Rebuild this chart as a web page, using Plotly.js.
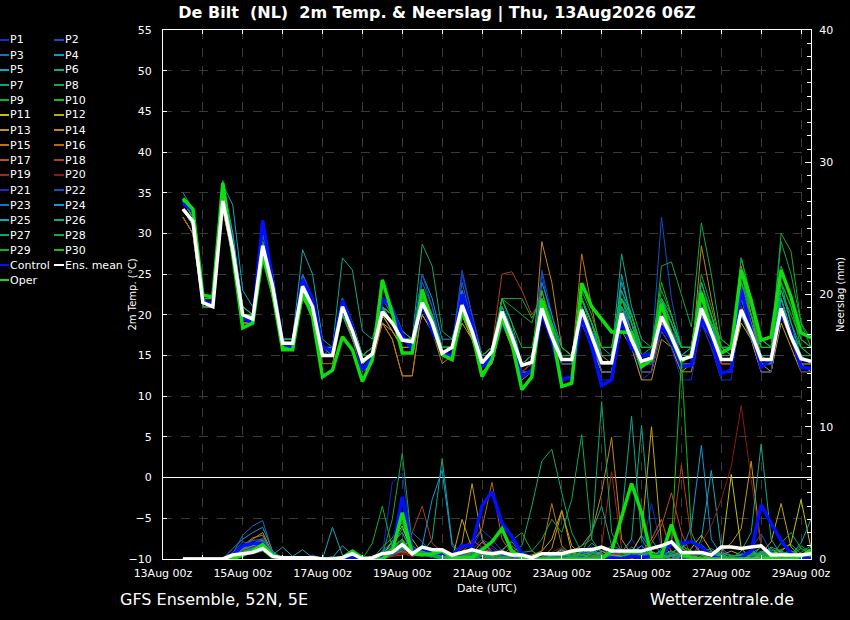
<!DOCTYPE html>
<html><head><meta charset="utf-8">
<script src="https://cdn.plot.ly/plotly-3.0.1.min.js"></script>
<style>html,body{margin:0;padding:0;background:#000;}#chart{width:850px;height:620px;}</style>
</head><body><div id="chart"></div>
<script>
const times = ["2026-08-13 12:00","2026-08-13 18:00",
"2026-08-14 00:00","2026-08-14 06:00","2026-08-14 12:00","2026-08-14 18:00",
"2026-08-15 00:00","2026-08-15 06:00","2026-08-15 12:00","2026-08-15 18:00",
"2026-08-16 00:00","2026-08-16 06:00","2026-08-16 12:00","2026-08-16 18:00",
"2026-08-17 00:00","2026-08-17 06:00","2026-08-17 12:00","2026-08-17 18:00",
"2026-08-18 00:00","2026-08-18 06:00","2026-08-18 12:00","2026-08-18 18:00",
"2026-08-19 00:00","2026-08-19 06:00","2026-08-19 12:00","2026-08-19 18:00",
"2026-08-20 00:00","2026-08-20 06:00","2026-08-20 12:00","2026-08-20 18:00",
"2026-08-21 00:00","2026-08-21 06:00","2026-08-21 12:00","2026-08-21 18:00",
"2026-08-22 00:00","2026-08-22 06:00","2026-08-22 12:00","2026-08-22 18:00",
"2026-08-23 00:00","2026-08-23 06:00","2026-08-23 12:00","2026-08-23 18:00",
"2026-08-24 00:00","2026-08-24 06:00","2026-08-24 12:00","2026-08-24 18:00",
"2026-08-25 00:00","2026-08-25 06:00","2026-08-25 12:00","2026-08-25 18:00",
"2026-08-26 00:00","2026-08-26 06:00","2026-08-26 12:00","2026-08-26 18:00",
"2026-08-27 00:00","2026-08-27 06:00","2026-08-27 12:00","2026-08-27 18:00",
"2026-08-28 00:00","2026-08-28 06:00","2026-08-28 12:00","2026-08-28 18:00",
"2026-08-29 00:00","2026-08-29 06:00"];

const tickDates = ["2026-08-13 00:00","2026-08-14 00:00","2026-08-15 00:00","2026-08-16 00:00","2026-08-17 00:00","2026-08-18 00:00","2026-08-19 00:00","2026-08-20 00:00","2026-08-21 00:00","2026-08-22 00:00","2026-08-23 00:00","2026-08-24 00:00","2026-08-25 00:00","2026-08-26 00:00","2026-08-27 00:00","2026-08-28 00:00","2026-08-29 00:00"];
const tickLabels = ["13Aug 00z","","15Aug 00z","","17Aug 00z","","19Aug 00z","","21Aug 00z","","23Aug 00z","","25Aug 00z","","27Aug 00z","","29Aug 00z"];

const memberNames = ["P1","P2","P3","P4","P5","P6","P7","P8","P9","P10","P11","P12","P13","P14","P15","P16","P17","P18","P19","P20","P21","P22","P23","P24","P25","P26","P27","P28","P29","P30"];
const memberColors = ["#1a2ad0","#1050c8","#1870c8","#1098d0","#10a8b8","#10a888","#10a868","#10a848","#10b028","#10c010","#c0c010","#c0a810","#c09810","#c08810","#c07410","#c06410","#b85018","#b04020","#a02818","#901818","#1a2ad0","#1050c8","#1870c8","#1098d0","#10a8b8","#10a888","#10a868","#10a848","#10b028","#10c010"];

const meanTemp = [33,31.5,21.5,21, 34,28,20,19.5, 28.5,23.5,16.5,16.5, 23.5,21,15,15, 21,18,14.3,15.2, 20.4,19,16.9,16.7, 21.5,19,15.3,16, 21.2,18,14.1,15.5, 20.4,17.3,13.8,14.2, 20.8,17.3,14.5,14.5, 20.6,17.3,14.1,14.1, 20.2,16.9,14.3,14.7, 19.8,17.3,14.5,14.9, 20.8,17.8,14.5,14.5, 20.6,17.8,14.5,14.5, 20.8,17.3,14.6,14.3];
const controlTemp = [33.7,32.8,21.6,21.4, 35.3,27.9,19.6,19, 31.6,23.9,16.5,16, 24.3,22,16.1,15.5, 21.8,18.6,13.2,14.9, 22.1,20.6,17.5,15.7, 21.4,18.1,15.5,14.9, 22.5,19,13.6,14.9, 19,16.9,12.4,13.2, 20.2,16.9,12,12.4, 19.8,16.1,11.3,12, 19.4,15.9,14.9,15.3, 18.6,16.9,13.6,13.8, 19.4,17.3,12.8,13.2, 23.1,18.1,13.6,14.5, 20.2,17.8,13.6,13.4];
const operTemp = [34.3,33,22.4,22.2, 36.2,27.6,18.4,19, 27.3,22.7,15.7,15.7, 22.7,19.8,12.4,13.2, 17.3,15.7,11.8,14.5, 24.3,20.2,15.3,15.3, 23.1,19,15.1,14.5, 20.5,17.8,12.4,14.5, 19.5,16.5,10.8,12.4, 21.8,18.1,11.2,11.6, 23.9,21,19.5,17.9, 17.9,17.8,13.6,14.5, 21.4,17.3,14.3,15.1, 22.7,17.8,15.3,16, 25.5,21.8,16.9,17.3, 25.5,22.2,17.8,17.2];

const meanPrecip = [0,0,0,0, 0,0.3,0.4,0.5, 0.8,0.2,0.1,0.1, 0.1,0.1,0,0, 0.1,0.4,0,0.1, 0.4,0.5,1.1,0.4, 0.9,0.7,0.7,0.3, 0.5,0.7,0.5,0.4, 0.5,0.3,0.3,0.1, 0.4,0.4,0.4,0.6, 0.7,0.7,0.9,0.6, 0.6,0.6,0.6,0.8, 1.0,1.3,0.5,0.5, 0.5,0.3,0.9,0.9, 0.8,0.9,1.0,0.3, 0.3,0.3,0.3,0.4];
const controlPrecip = [0,0,0,0, 0,0.3,1.0,1.2, 1.2,0.3,0,0, 0,0,0,0, 0,0.1,0,0, 0.2,0.5,4.7,0.6, 0.8,0.5,0.4,0.3, 1.0,1.0,4.0,5.1, 2.7,1.7,0.4,0.1, 0,0,0,0, 0,0,0,0.1, 0,0.2,0.1,0.2, 0.3,1.2,1.2,1.3, 0.9,0.2,0,0, 0.1,0.6,4.1,2.7, 1.4,0.4,0.1,0];
const operPrecip = [0,0,0,0, 0,0,0.3,0.6, 1.1,0.3,0,0, 0,0,0,0, 0.1,0.6,0.1,0, 0,0.6,3.5,0.4, 0.3,0.4,0.6,0.1, 0.1,0.1,0.7,1.3, 2.3,0.6,0.1,0, 0,0,0,0, 0,0,0,0.6, 3.1,5.7,3.5,0.2, 0.2,2.6,0.4,0.1, 0,0,0,0, 0,0,0,0.1, 0,0,0.2,0.7];

const p1Temp = [33,31,21,21, 35,28,20,19, 30,24,16,16, 24,21,15,15, 22,18,14,15, 21,19,17,16, 22,19,15,16, 23,19,14,15, 21,17,13,13, 21,17,14,14, 20,17,13,13, 19,16,12,13, 22,18,14,14, 19,16,13,13, 23,18,13,13, 20,17,14,13];
const p2Temp = [34,32,22,22, 36,29,20,20, 31,25,17,16, 25,22,16,15, 22,19,15,16, 22,20,17,17, 23,20,16,16, 25,20,15,16, 22,18,14,15, 25,19,15,15, 21,18,15,14, 21,17,14,15, 32,22,16,16, 21,18,15,15, 22,18,14,14, 21,17,14,14];
const p3Temp = [32,30,21,21, 34,28,19,19, 29,24,16,16, 25,22,15,15, 20,17,14,15, 22,21,18,17, 24,21,16,16, 24,19,15,16, 20,18,14,14, 22,18,15,15, 21,18,14,14, 23,19,15,15, 20,17,15,15, 20,18,15,15, 24,19,14,14, 21,18,15,14];
const p4Temp = [35,33,22,22, 35,30,20,20, 29,23,16,16, 24,21,15,16, 21,18,15,16, 20,19,17,17, 25,22,17,17, 22,19,15,16, 19,17,14,15, 21,18,15,15, 22,19,16,15, 22,18,15,15, 21,18,15,16, 24,20,16,15, 21,19,16,16, 22,18,15,15];
const p5Temp = [34,32,22,21, 36,33.5,23,21, 27,23,17,17, 28,25,17,16, 22,19,15,16, 21,20,17,17, 21,19,16,16, 22,18,15,16, 21,18,14,14, 21,18,15,15, 22,18,14,14, 25,19,15,15, 19,17,15,15, 22,19,16,16, 21,18,15,15, 22,18,15,14];
const p6Temp = [33,31,21,21, 34,28,20,19, 28,23,16,16, 24,22,16,16, 27,25.5,18,17, 22,20,18,17, 22,19,16,16, 21,18,14,15, 20,17,14,14, 22,18,15,15, 20,18,15,15, 27.5,21,17,16, 21,18,15,16, 23,19,15,15, 22,19,15,15, 24,19,16,15];
const p7Temp = [32,30,21,21, 33,27,19,19, 28,23,16,16, 23,21,15,15, 20,18,14,15, 20,19,17,17, 28.7,26,18,17, 22,19,15,16, 20,17,14,15, 21,17,14,14, 20,17,14,14, 22,20,16,16, 22,19,16,16, 22,19,17,16, 25,20,15,14, 22,18,15,15];
const p8Temp = [33,31,21,21, 34,28,20,20, 28,23,17,17, 23,20,15,15, 21,18,14,15, 21,20,17,17, 22,19,16,16, 20,17,14,15, 21,18,14,14, 21,17,14,14, 21,18,15,15, 19,16,14,14, 26,26.5,22.5,18.5, 31.3,25,17,16, 21,18,15,15, 22,18,16,15];
const p9Temp = [34,32,22,21, 35,28,20,20, 29,24,17,17, 24,21,15,15, 21,18,14,15, 20,19,17,17, 21,18,15,16, 22,19,15,16, 22,22,22,19.6, 22,19,15,15, 21,18,15,15, 22,19,15,15, 20,18,16,16, 24,20,15,15, 27,22,17,16, 30,27.8,19,16];
const p10Temp = [33,31,22,22, 35,29,21,20, 28,23,17,17, 23,21,15,15, 21,18,15,16, 21,20,17,17, 21,19,16,16, 21,18,15,16, 20,17,14,15, 22,18,15,15, 22,19,15,15, 21,18,16,16, 21,19,16,16, 22,19,16,16, 23,20,17,16, 23,20,17,16];
const p11Temp = [33,31,21,21, 34,28,20,19, 28,23,16,16, 23,21,15,15, 21,17,14,15, 20,18,16,16, 20,18,15,15, 20,17,14,15, 19,17,13,13, 20,17,14,14, 19,16,13,13, 20,17,14,14, 19,17,14,14, 20,17,14,14, 19,17,13,13, 20,17,14,14];
const p12Temp = [32,30,21,21, 33,27,19,19, 27,23,16,16, 22,20,15,15, 20,18,14,15, 19,18,16,16, 20,18,15,15, 19,17,13,14, 20,16,13,13, 23,18,15,15, 20,18,14,14, 19,17,13,13, 18,16,13,14, 20,17,14,14, 21,17,14,13, 19,16,13,13];
const p13Temp = [33,31,22,21, 34,28,20,19, 28,23,16,16, 23,21,15,15, 21,18,14,15, 19,17,12.5,12.5, 21,19,15,15, 20,17,13,14, 19,16,13,13, 21,18,14,14, 20,17,13,13, 18,16,12,12, 17,16,13,13, 19,17,13,13, 20,17,13,13, 21,17,14,13];
const p14Temp = [32,30,21,21, 34,27,20,19, 28,23,16,16, 23,20,15,15, 21,18,14,15, 20,18,16,16, 21,18,15,15, 20,17,14,14, 19,16,12,13, 29,24,16,15, 21,18,14,14, 21,18,14,14, 20,17,14,14, 28.5,22,16,15, 21,18,14,14, 21,18,14,14];
const p15Temp = [33,31,21,21, 34,28,20,19, 28,23,16,16, 22,20,14,14, 20,17,13,14, 19,17,12.5,12.5, 21,18,14,15, 21,18,14,15, 20,17,13,14, 20,17,14,14, 27.5,21,15,14, 20,17,13,13, 19,17,14,14, 20,17,14,14, 26,20,15,14, 20,17,14,14];
const p16Temp = [33,31,22,21, 33,27,19,19, 27,22,16,16, 23,21,15,15, 22,19,15,16, 21,19,17,16, 22,19,15,15, 22,18,14,15, 19,16,13,13, 22,18,14,14, 21,17,13,13, 20,17,14,14, 20,17,14,14, 21,18,14,14, 21,18,14,14, 20,17,14,14];
const p17Temp = [32,30,21,21, 34,28,20,20, 29,24,17,16, 24,21,15,15, 21,18,14,15, 21,19,17,17, 22,19,15,16, 21,18,14,15, 20,17,13,14, 21,17,14,14, 20,17,14,14, 20,17,14,14, 21,18,15,15, 21,18,15,15, 20,18,15,15, 20,17,15,15];
const p18Temp = [33,31,22,22, 35,29,21,20, 30,25,17,17, 24,21,15,15, 21,18,15,15, 20,19,17,17, 21,19,15,16, 21,18,15,16, 25,25.3,23,20, 22,18,15,15, 21,18,14,14, 21,18,15,15, 20,18,15,15, 21,18,14,14, 22,18,15,15, 21,18,15,14];
const p19Temp = [33,31,21,21, 34,28,20,19, 29,24,16,16, 23,21,15,15, 22,19,15,16, 21,19,17,17, 22,19,15,15, 21,18,14,15, 20,17,13,14, 20,17,14,14, 21,17,14,14, 20,17,14,14, 20,17,14,14, 21,18,15,15, 21,18,15,15, 20,17,15,15];
const p20Temp = [34,32,22,22, 35,29,21,20, 29,24,17,17, 24,22,16,16, 21,19,15,16, 21,20,17,17, 21,19,16,16, 22,19,15,16, 21,18,14,14, 21,17,14,14, 20,17,14,14, 19,17,14,14, 20,18,15,15, 22,19,15,15, 21,19,15,15, 21,18,15,15];
const p21Temp = [33,31,21,21, 34,28,20,19, 31.5,25,17,17, 24,22,16,16, 22,19,15,15, 21,20,17,16, 21,18,15,16, 25,20,15,15, 20,17,13,13, 20,17,14,14, 19,16,12,12, 19,16,13,13, 18,16,12,12, 19,16,12,12, 22,18,13,13, 21,17,13,13];
const p22Temp = [33,31,22,21, 35,28,20,20, 28,24,17,16, 24,21,15,15, 21,18,14,15, 20,19,17,17, 25,21,16,16, 25.5,20,15,15, 20,17,14,14, 25.5,20,15,15, 21,18,14,14, 20,17,14,14, 21,18,14,14, 20,18,15,15, 23,19,14,14, 22,18,15,15];
const p23Temp = [34,32,22,22, 36,29,21,20, 29,24,17,17, 25,22,16,16, 22,19,15,16, 21,20,17,17, 22,19,16,16, 21,18,14,15, 20,17,14,14, 20,17,14,14, 20,17,13,13, 21,18,15,15, 22,19,15,15, 22,19,15,15, 20,17,14,14, 22,18,14,14];
const p24Temp = [33,31,21,21, 34,28,20,19, 28,23,16,16, 23,20,15,15, 21,18,14,15, 21,20,17,16, 23,20,16,16, 23,19,15,15, 22,19,14,14, 24,20,16,15, 22,19,14,14, 21,18,15,15, 22,19,16,16, 21,19,15,15, 22,18,14,14, 22,18,15,15];
const p25Temp = [34,32,22,22, 36.5,30,21,20, 30,25,17,17, 24,21,15,15, 20,18,14,15, 21,20,17,17, 21,19,16,16, 21,18,14,15, 21,18,14,14, 21,18,15,15, 22,19,15,15, 24,20,15,15, 22,19,16,16, 21,19,16,16, 22,19,15,15, 23,19,15,15];
const p26Temp = [33,31,21,21, 34,28,20,20, 28,24,17,17, 24,21,16,15, 22,19,15,16, 22,21,18,17, 22,19,16,16, 22,19,15,16, 20,17,14,14, 22,18,15,15, 21,18,14,14, 22,19,15,15, 21,18,15,15, 22,19,15,15, 23,19,15,15, 22,18,15,15];
const p27Temp = [33,31,22,21, 35,29,20,20, 28,23,16,16, 23,20,15,15, 20,17,14,15, 21,19,17,17, 22,20,16,16, 22,19,15,16, 21,18,14,15, 22,19,15,15, 22,19,16,16, 23,20,16,16, 22,20,16,16, 24,20,16,16, 24,21,16,16, 26,22,17,16];
const p28Temp = [34,32,22,22, 35,29,21,20, 29,24,17,17, 24,22,16,16, 22,19,15,16, 22,20,17,17, 23,20,16,16, 22,19,15,16, 21,18,14,15, 22,19,15,15, 23,20,16,16, 21,19,16,16, 23,20,16,16, 25,21,16,15, 27,22,17,16, 29,25,19,17];
const p29Temp = [33,31,21,21, 34,28,20,19, 28,23,16,16, 23,21,15,15, 21,18,14,15, 21,19,17,17, 22,19,15,15, 20,18,14,15, 22,21,20,19, 23,19,15,15, 22,19,15,15, 22,19,15,16, 22,19,16,16, 22,19,16,16, 25,21,16,16, 24,21,17,16];
const p30Temp = [34,32,22,22, 35,29,20,20, 28,23,16,16, 23,21,15,15, 21,18,15,15, 21,19,17,17, 22,19,16,16, 21,18,14,15, 22,19,16,16, 22,19,16,15, 22,19,16,16, 22,20,16,16, 24,20,16,16, 23,20,16,16, 24,20,16,16, 24,21,16,16];

const p1Precip = [0,0,0,0, 0,0.3,0.8,1.2, 1.4,0.3,0,0, 0,0,0,0, 0,0,0,0, 0.3,5.8,6.5,1.0, 0.4,0.2,0,0, 0,0.5,1.2,0.8, 0.3,0,0,0, 0,0,0.2,0, 0.1,0,0.3,0.5, 0.2,1.5,0.5,4.2, 0.8,0.2,0,0, 0,0,0.5,0.2, 0,0.3,0.6,0.2, 0,0,0,0];
const p2Precip = [0,0,0,0, 0,0.5,1.3,1.1, 1.6,0.4,0,0, 0,0,0,0, 0,0.2,0,0, 0.5,1.2,2.0,0.5, 0.6,0.3,0,0, 0.4,0.9,2.2,1.5, 0.6,0.2,0,0, 0,0,0,0, 0,0.2,0.4,0, 0,0.3,1.0,0.3, 0.5,1.1,0.2,0, 0,0.1,0,0, 0,0.8,1.9,0.5, 0.2,0,0,0];
const p3Precip = [0,0,0,0, 0,0.4,1.8,2.5, 2.9,0.5,0.1,0, 0,0.3,0,0, 0,0.1,0,0, 0,0.3,0.6,2.0, 1.3,0.4,0.2,0, 0,0.2,0.3,0.4, 0.2,0.1,0,0, 0,0.3,0.8,0.2, 0,0,0.5,1.0, 0.7,0.2,0,0, 0,0.4,0.9,0.3, 1.1,0.4,0,0, 0,0,0.3,0.7, 0.3,0,0,0];
const p4Precip = [0,0,0,0, 0,0.8,1.5,2.0, 2.4,0.6,0,0.1, 0,0,0,0.2, 0,0,0,0, 0.2,0.9,1.5,0.4, 0.8,0.5,0.3,0, 0,0,0.2,0.4, 0.7,1.3,0.3,0, 0,0,0.2,0, 0.3,1.2,0.6,0.2, 0,0.5,1.8,0.6, 0.2,0,0.8,1.4, 0.3,0,0,0, 0,0.2,0.9,0.4, 0,0.6,0.3,0];
const p5Precip = [0,0,0,0, 0,0.2,0.6,0.9, 1.1,0.3,0.9,0.2, 0.7,0.1,0,2.4, 0.3,0,0,0, 0.2,0.4,1.0,0.3, 0.6,0.2,0.1,0, 0.3,0.8,0.4,0.1, 0,0,0.3,0.1, 0,0.2,0.4,0.1, 0,0.5,0.3,0, 0.2,0.9,0.4,0, 0.3,0.6,0.2,0, 1.5,6.7,0.8,0.2, 0,0,0.3,0.5, 0.4,0.6,0.2,0];
const p6Precip = [0,0,0,0, 0,0.1,0.4,0.7, 0.8,0.2,0,0, 0,0,0,0, 0,0.1,0,0, 0.5,1.0,2.3,0.8, 0.4,1.5,7.6,1.2, 0.2,0.1,0,0.3, 0.5,0.2,0,0, 0,0.4,0.2,0, 0.6,0.9,0.2,0.1, 0.5,1.5,10.1,1.5, 0.3,0.2,0,0, 0,0.4,0.2,0, 0,0,0.6,0.2, 0,0,0,0.4];
const p7Precip = [0,0,0,0, 0,0,0.2,0.5, 0.7,0.1,0,0, 0,0,0,0, 0,0.2,0.1,0, 0.9,1.6,2.8,0.5, 0.3,0.2,0.4,0.2, 0,0.1,0.5,0.3, 0.4,0.5,1.0,4.0, 7.4,8.3,5.0,2.0, 0.5,0.2,0,0, 0.3,0.6,0.2,0, 0.2,0.5,0.9,0.3, 0,0.2,0,0, 0.3,0.5,0.2,0, 0,0.3,1.0,0.5];
const p8Precip = [0,0,0,0, 0,0.2,0.5,0.6, 0.9,0.2,0,0, 0,0,0,0, 0,0.1,0,0, 0.3,3.0,8.0,1.0, 0.5,0.3,0.2,0, 0,0,0.3,0.1, 0.3,0.6,0.3,0, 0,0,0.2,0.5, 0.4,0.2,0,0.3, 0.6,0.3,0,0, 0.8,2.0,1.2,0.2, 0,0,0.1,0, 0,0,0.4,0.8, 0.3,0.1,0,0];
const p9Precip = [0,0,0,0, 0,0,0.3,0.4, 0.6,0,0,0, 0,0,0,0, 0,0,0,1.2, 4.0,0.8,1.5,0.4, 0.5,0.2,0,0, 0.2,0.3,0,0, 0.1,0.4,0.2,0, 0,0,0,0.3, 0.8,0.3,0,0, 0,0.2,0.5,0.2, 0,0.3,0.6,0.2, 0,0,0,0, 0,0.4,0.9,0.6, 0.7,1.1,0.4,0.2];
const p10Precip = [0,0,0,0, 0,0.1,0.5,0.9, 1.3,0.2,0,0, 0,0,0,0, 0,0.3,0,0, 0,0.3,1.4,0.2, 0.4,0.3,0,0, 0,0.2,0.4,0.2, 0,0,0,0, 0,0,0,0.2, 0.5,0.3,0,0.2, 0.4,0.2,0,0, 0.5,1.2,15,2.0, 0.3,0,0,0, 0,0,0.2,0.3, 0,0,0,0];
const p11Precip = [0,0,0,0, 0,0.2,0.7,1.0, 1.3,0.4,0,0, 0,0.2,0,0, 0,0,0,0, 0.2,1.4,2.5,0.4, 0.3,0.6,0.2,0, 0.3,0.7,0.3,0, 0.2,0.5,0.4,0, 0,0.3,0.7,0.2, 0,0,0.6,0.3, 0,0,0.4,0.5, 0.3,0,0,0.8, 1.8,0.6,0.3,6.4, 0.8,0,0.2,0.4, 0.6,1.2,4.5,0.8];
const p12Precip = [0,0,0,0, 0,0.1,0.4,0.8, 1.1,0.2,0,0, 0,0,0,0, 0,0,0,0, 0,0.5,0.9,1.5, 0.4,0.2,0,0, 3.0,0.8,0.2,0, 0,0,0.2,0.3, 0.6,1.5,3.7,0.5, 0.2,0,0.3,0.5, 0.2,0.5,1.8,10, 1.2,0.3,0,0, 0,0,0.3,0.6, 0.3,0.2,0.4,1.3, 4.2,0.9,0.2,0];
const p13Precip = [0,0,0,0, 0,0.3,0.9,1.5, 2.0,0.4,0,0, 0,0.2,0.1,0, 0,0,0,0, 0.2,0.6,1.0,0.3, 0.4,0.8,0.3,0.2, 1.2,5.7,1.5,0.4, 0.2,0,0,0, 0,0.8,3.6,1.0, 0.3,0,0,0.2, 0.3,0.2,0,0, 0,0.4,0.3,0, 0,0.2,0.6,1.2, 2.3,7.4,0.8,0.2, 0,0,0.3,0.5];
const p14Precip = [0,0,0,0, 0,0.2,0.8,1.2, 1.4,0.2,0,0, 0,0,0,0, 0,0,0,0, 0.3,0.8,1.2,0.6, 0.3,0.2,0,0, 0.2,0.6,0.8,0.5, 0.3,0,0,0, 0,0,0.2,0.6, 1.0,2.0,5.0,9.2, 1.5,0.3,0,0, 0,0.3,0.5,0.2, 0,0,0,0, 0.2,0.5,0.3,0, 0,0.4,0.2,0];
const p15Precip = [0,0,0,0, 0,0.4,1.0,1.6, 1.8,0.3,0,0, 0,0,0,0, 0,0.1,0,0, 0.2,0.4,0.9,0.3, 0.5,0.3,0.2,0, 0,0.4,1.3,0.6, 0.2,1.0,0.3,0.2, 0.6,4.2,1.0,0.3, 0,0.2,0.6,0.3, 0.5,0.2,0.6,0.3, 0,0.2,0.8,0.4, 0,0.3,0.6,0.2, 0.3,0,0,0.2, 0.5,0.3,0,0];
const p16Precip = [0,0,0,0, 0,0.2,0.5,0.9, 1.0,0.2,0,0, 0,0,0,0, 0,0,0,0, 0,0.3,0.6,0.3, 0.6,0.4,0.3,0, 0.6,1.2,2.3,5.8, 1.5,0.4,0,0, 0,0,0,0.3, 0.2,0,0.3,0, 0,0.3,0.5,1.5, 3.0,0.4,0,0, 0,0.5,0.4,0, 0.2,0.6,0.3,0, 0,0.2,0.4,0];
const p17Precip = [0,0,0,0, 0,0.3,0.7,0.9, 1.1,0.2,0,0, 0,0,0,0.1, 0,0,0,0, 0.4,0.6,0.5,0.6, 0.8,0.3,0.1,0, 0.3,0.5,0.2,0, 0.2,0.4,0.3,0, 0,0.2,0.3,0.4, 0,0.3,0.2,0, 0,0,0.4,1.2, 2.5,5.0,2.0,0.2, 0.4,0.2,0,0, 0,0.3,0.2,0, 0,0,0,0];
const p18Precip = [0,0,0,0, 0,0.3,0.9,1.2, 1.3,0.3,0,0, 0,0,0,0, 0,0,0,0, 0,0.2,0.3,2.0, 4.0,1.2,0.5,0.3, 0.8,1.4,0.9,0.5, 0.7,0.3,0.2,0, 0.5,0.3,0,0, 0,0,0.2,0.4, 0.3,0.5,0.2,0, 0.3,1.2,7.1,1.5, 0.4,0,0,0, 0,0.2,0.5,0.2, 0,0,0,0];
const p19Precip = [0,0,0,0, 0,0.1,0.4,0.6, 0.8,0.1,0,0, 0,0,0,0, 0,0,0,0, 0.2,0.3,0.5,0.2, 1.0,0.5,0.4,0.2, 0,0.2,0.5,0.3, 0,0.1,0.4,0.2, 0,0,0.2,0.1, 0.3,0.5,1.0,6.6, 0.8,0.3,0,0, 0.2,0,0.3,0.4, 0.2,0,0,0.2, 0,0,0,0.3, 0.2,0,0,0];
const p20Precip = [0,0,0,0, 0,0.2,0.6,0.8, 1.0,0.2,0,0, 0,0,0,0, 0,0,0,0, 0,0.3,0.4,0.2, 0.5,0.2,0,0, 0.2,0.4,0.3,0, 0.3,0,0,0, 0,0.5,0.9,0.2, 0,0.2,0.1,0, 0,0.2,0,0, 0,0.4,0.6,0.2, 1.2,2.5,4.5,7.0, 11.6,6.0,1.0,0.2, 0,0,0,0];
const p21Precip = [0,0,0,0, 0,0.1,0.6,0.9, 1.2,0.3,0,0, 0,0,0,0, 0,0,0,0, 0.4,0.9,1.2,0.5, 0.6,0.3,0,0, 0,0.4,0.9,0.6, 0.3,0.2,0,0, 0,0,0,0.2, 0.4,0.2,0,0, 0,0.2,0.4,0.9, 0.6,0.3,0,0, 0,0.2,0.6,0.3, 0,0.5,1.1,0.4, 0.3,0.2,0,0];
const p22Precip = [0,0,0,0, 0,0.2,0.5,0.8, 1.0,0.2,0,0, 0,0,0,0, 0,0.1,0,0, 0.3,0.6,0.8,0.4, 0.3,0.1,0,0, 0.3,0.7,1.5,1.0, 0.4,0.2,0,0, 0,0,0.2,0.3, 0.2,0,0,0.5, 0.3,0.4,0.2,0, 0.3,0.5,0.2,0, 0,0,0,0.2, 0.4,0.6,0.2,0, 0,0,0.2,0.3];
const p23Precip = [0,0,0,0, 0,0.3,1.0,1.4, 1.5,0.4,0,0, 0,0,0,0, 0,0,0,0, 0.2,0.3,0.7,0.6, 0.8,0.4,0.2,0, 0,0.3,0.5,0.3, 0.2,0,0,0, 0,0,0.3,0.2, 0.5,0.4,0.2,0, 0,0.3,0.5,0.2, 0,0,0.3,0.2, 0.4,0.3,0,0, 0,0.2,0.3,0.2, 0,0.2,0.4,0.2];
const p24Precip = [0,0,0,0, 0,0.2,0.8,1.0, 1.4,0.3,0,0, 0,0,0,0, 0,0,0,0, 0,0.4,0.8,0.6, 1.0,4.5,6.7,1.0, 0.3,0.2,0,0, 0,0.2,0.3,0.2, 0,0.2,0.4,0.1, 0.3,0.6,0.4,0.2, 0,0.5,1.0,0.3, 0.2,0,0.6,2.5, 8.6,1.5,0.3,0, 0.2,0.4,0.2,0, 0,0,0.2,0.5];
const p25Precip = [0,0,0,0, 0,0.1,0.4,0.6, 0.8,0.2,0,0, 0,0,0,0.1, 1.0,0.3,0,0, 0.3,0.5,0.9,0.4, 0.6,0.3,0.2,0, 0.1,0.3,0.6,0.3, 0.4,0.2,0,0, 0,0.3,0.5,0.2, 0,0.4,0.8,0.3, 0,0.6,0.4,0.2, 0,0.3,0.2,0, 0,0.4,0.3,0, 0.2,0,0.4,0.9, 0.6,0.3,1.2,3.0];
const p26Precip = [0,0,0,0, 0,0.1,0.3,0.5, 0.7,0.1,0,0, 0,0,0,0, 0,0,0,0, 0.6,1.3,2.0,0.5, 0.8,0.4,0.2,0, 0.2,0.5,0.3,0, 0.1,0.2,0.4,0.2, 0,0.2,0.3,0.2, 0.5,2.0,4.0,1.0, 3.0,10.8,1.5,0.3, 0.2,0,0.2,0.5, 0.3,0.6,0.2,0, 0.6,2.0,8.7,1.5, 0.3,0.5,0.2,0];
const p27Precip = [0,0,0,0, 0,0.2,0.6,0.8, 1.0,0.2,0,0, 0,0,0,0, 0,0,0.2,0, 0.4,0.6,1.0,0.3, 0.5,0.3,0,0, 0.2,0.4,0.5,0.2, 0.1,0,0.3,0.2, 0,0.3,0.6,0.5, 1.0,1.5,11.9,2.0, 0.6,0.2,0,0, 0.3,0.6,0.2,0, 0,0,0.4,0.3, 0.2,0.6,0.3,0, 0,0,0.5,1.0];
const p28Precip = [0,0,0,0, 0,0,0.3,0.6, 0.8,0.1,0,0, 0,0,0,0, 0,0.2,0,0, 0.3,0.9,1.5,0.4, 0.6,0.3,0.1,0, 0,0.3,0.7,0.4, 0.2,0.3,0.5,0.6, 1.5,3.0,2.0,4.5, 9.4,1.5,0.4,0, 0.2,0.4,0,0, 0,0.2,0.4,0.3, 0.5,0.8,0.3,0, 0,0.3,0.5,0.2, 1.2,2.0,0.8,0.3];
const p29Precip = [0,0,0,0, 0,0.2,0.4,0.5, 0.9,0.2,0,0, 0,0,0,0, 0,0,0,0, 0.2,0.4,0.8,0.6, 0.4,0.2,0,0, 0.2,0.3,0.2,0, 0.6,1.4,2.0,0.6, 0.2,0,0,0.2, 0.3,0.5,0.3,0.2, 0,0.4,0.6,0.3, 0.6,1.2,0.3,0, 0.2,0.6,0.4,0, 0,0.3,0.4,0.2, 0.4,0.6,0.3,0.2];
const p30Precip = [0,0,0,0, 0,0.1,0.5,0.8, 1.0,0.2,0,0, 0,0,0,0, 0,0,0,0, 0.3,0.7,1.5,0.5, 0.3,0.2,0,0, 0,0.2,0.6,0.3, 0,0.3,0.5,0.2, 0,0,0.2,0.4, 0.3,0.2,0.2,0, 0.2,0.5,0.3,0, 0,0.4,1.0,0.6, 0.3,0,0,0.2, 0.3,0.5,0.3,0, 0,0.3,0.8,0.4];

const memberTemps = [p1Temp,p2Temp,p3Temp,p4Temp,p5Temp,p6Temp,p7Temp,p8Temp,p9Temp,p10Temp,p11Temp,p12Temp,p13Temp,p14Temp,p15Temp,p16Temp,p17Temp,p18Temp,p19Temp,p20Temp,p21Temp,p22Temp,p23Temp,p24Temp,p25Temp,p26Temp,p27Temp,p28Temp,p29Temp,p30Temp];
const memberPrecips = [p1Precip,p2Precip,p3Precip,p4Precip,p5Precip,p6Precip,p7Precip,p8Precip,p9Precip,p10Precip,p11Precip,p12Precip,p13Precip,p14Precip,p15Precip,p16Precip,p17Precip,p18Precip,p19Precip,p20Precip,p21Precip,p22Precip,p23Precip,p24Precip,p25Precip,p26Precip,p27Precip,p28Precip,p29Precip,p30Precip];

const FONT = "DejaVu Sans, Verdana, sans-serif";
const controlColor = "#0010ff", operColor = "#10dd10", meanColor = "#ffffff";

const traces = [];
memberNames.forEach((nm, k) => {
  traces.push({x: times, y: memberTemps[k], yaxis: "y", type: "scatter", mode: "lines", name: nm,
    line: {color: memberColors[k], width: 1}, showlegend: false, hoverinfo: "skip"});
});
memberNames.forEach((nm, k) => {
  traces.push({x: times, y: memberPrecips[k], yaxis: "y2", type: "scatter", mode: "lines", name: nm,
    line: {color: memberColors[k], width: 1}, showlegend: false, hoverinfo: "skip"});
});
[["Control", controlTemp, controlPrecip, controlColor],
 ["Oper", operTemp, operPrecip, operColor],
 ["Ens. mean", meanTemp, meanPrecip, meanColor]].forEach(([nm, t, p, c]) => {
  traces.push({x: times, y: t, yaxis: "y", type: "scatter", mode: "lines", name: nm, line: {color: c, width: 3.5}, showlegend: false, hoverinfo: "skip"});
  traces.push({x: times, y: p, yaxis: "y2", type: "scatter", mode: "lines", name: nm, line: {color: c, width: 3.5}, showlegend: false, hoverinfo: "skip"});
});

// legend built as annotations + short line shapes (two columns)
const L = 163, R = 811, T = 30, B = 559;
const px2x = px => (px - L) / (R - L);
const py2y = py => (B - py) / (B - T);
const col1 = [], col2 = [];
memberNames.forEach((nm, k) => { (k % 2 === 0 ? col1 : col2).push([nm, memberColors[k]]); });
col1.push(["Control", controlColor]); col1.push(["Oper", operColor]);
col2.push(["Ens. mean", meanColor]);
const annotations = [], shapes = [];
[[col1, 0, 9], [col2, 54, 64]].forEach(([col, sx, tx]) => {
  col.forEach(([nm, c], r) => {
    const py = 40 + 15 * r;
    shapes.push({type: "line", xref: "paper", yref: "paper", x0: px2x(sx), x1: px2x(tx), y0: py2y(py), y1: py2y(py), line: {color: c, width: 2}});
    annotations.push({xref: "paper", yref: "paper", x: px2x(tx - 1), y: py2y(py), text: nm, showarrow: false, xanchor: "left", yanchor: "middle", font: {family: FONT, size: 11, color: "#ffffff"}});
  });
});
// axis titles placed as rotated text
annotations.push({xref: "paper", yref: "paper", x: px2x(131.5), y: py2y(295), text: "2m Temp. (°C)", textangle: -90, showarrow: false, xanchor: "center", yanchor: "middle", font: {family: FONT, size: 10, color: "#ffffff"}});
annotations.push({xref: "paper", yref: "paper", x: px2x(840), y: py2y(295), text: "Neerslag (mm)", textangle: -90, showarrow: false, xanchor: "center", yanchor: "middle", font: {family: FONT, size: 10, color: "#ffffff"}});
annotations.push({xref: "paper", yref: "paper", x: px2x(118), y: py2y(599), text: "GFS Ensemble, 52N, 5E", showarrow: false, xanchor: "left", yanchor: "middle", font: {family: FONT, size: 16, color: "#ffffff"}});
annotations.push({xref: "paper", yref: "paper", x: px2x(796), y: py2y(599), text: "Wetterzentrale.de", showarrow: false, xanchor: "right", yanchor: "middle", font: {family: FONT, size: 16, color: "#ffffff"}});

const layout = {
  width: 850, height: 620,
  paper_bgcolor: "#000000", plot_bgcolor: "#000000",
  margin: {l: L, r: 850 - R, t: T, b: 620 - B, pad: 0},
  font: {family: FONT, size: 11, color: "#ffffff"},
  title: {text: "De Bilt  (NL)  2m Temp. & Neerslag | Thu, 13Aug2026 06Z", x: 437 / 850, xref: "container", xanchor: "center", y: 1 - 12 / 620, yanchor: "middle",
    font: {family: FONT, size: 16, weight: "bold", color: "#ffffff"}},
  showlegend: false,
  xaxis: {type: "date", range: ["2026-08-13 00:00", "2026-08-29 06:00"], tickmode: "array", tickvals: tickDates, ticktext: tickLabels,
    ticks: "inside", ticklen: 4, tickcolor: "#ffffff", showline: true, linecolor: "#ffffff", linewidth: 1, mirror: "ticks",
    showgrid: true, gridcolor: "#3a3a3a", griddash: "dash", gridwidth: 1, zeroline: false,
    tickfont: {family: FONT, size: 11, color: "#ffffff"}, ticklabelstandoff: 4,
    title: {text: "Date (UTC)", font: {family: FONT, size: 11, color: "#ffffff"}, standoff: 5}},
  yaxis: {range: [-10, 55], tick0: 0, dtick: 5, ticks: "inside", ticklen: 4, tickcolor: "#ffffff", showline: true, linecolor: "#ffffff", mirror: true,
    showgrid: true, gridcolor: "#3a3a3a", griddash: "dash", zeroline: true, zerolinecolor: "#ffffff", zerolinewidth: 1,
    tickfont: {family: FONT, size: 11, color: "#ffffff"}, ticklabelstandoff: 8},
  yaxis2: {overlaying: "y", side: "right", range: [0, 40], tick0: 0, dtick: 10, ticks: "inside", ticklen: 6, tickcolor: "#ffffff",
    minor: {dtick: 1, ticks: "inside", ticklen: 4, tickcolor: "#ffffff", showgrid: false},
    showline: true, linecolor: "#ffffff", showgrid: false, zeroline: false,
    tickfont: {family: FONT, size: 11, color: "#ffffff"}, ticklabelstandoff: 5},
  annotations: annotations,
  shapes: shapes
};

Plotly.newPlot("chart", traces, layout, {displayModeBar: false, staticPlot: true});
</script>
</body></html>
